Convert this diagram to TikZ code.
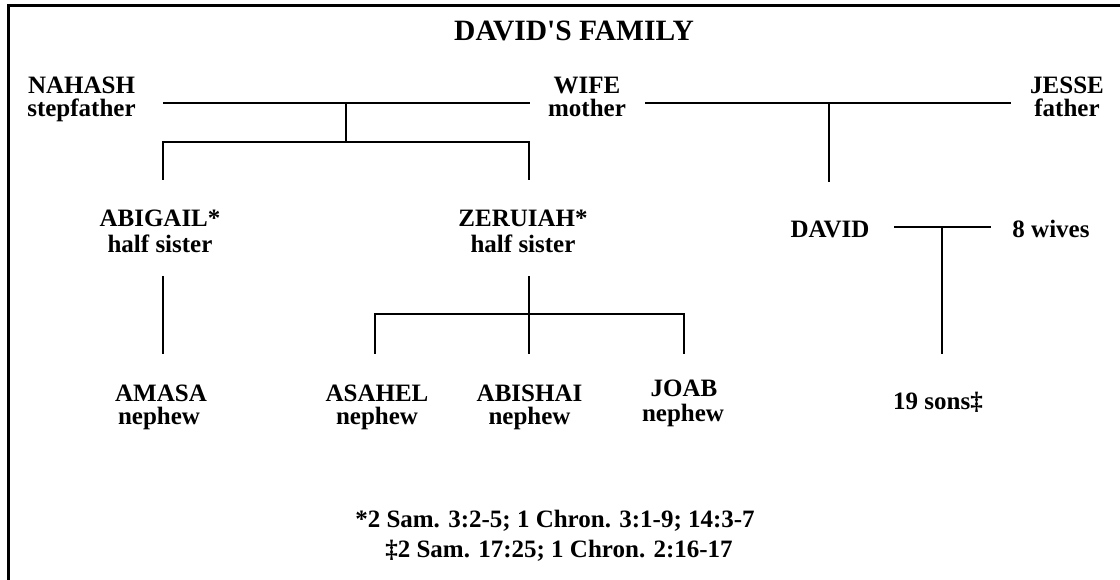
\documentclass[tikz,border=0pt]{standalone}
\usepackage{fontspec}
\setmainfont{Liberation Serif}[Ligatures=TeXOff]
\begin{document}
\begin{tikzpicture}[x=1pt,y=-1pt,
  lbl/.style={anchor=base, inner sep=0pt, font=\fontsize{25}{25}\selectfont\bfseries},
  ttl/.style={anchor=base, inner sep=0pt, font=\fontsize{29.5}{30}\selectfont\bfseries},
  link/.style={draw=black, line width=2pt},
  frame/.style={draw=black, line width=3pt}]
\useasboundingbox (0,0) rectangle (1120,580);
% frame (right and bottom edges fall outside the page)
\coordinate (fBL) at (8.5,590);
\coordinate (fTL) at (8.5,5.5);
\coordinate (fTR) at (1130,5.5);
\draw[frame] (fBL) -- (fTL) -- (fTR);

% title
\node[ttl] (title) at (574,41) {DAVID'S FAMILY};

% parents
\node[lbl] (nahash)  at (81.5,93.3)  {NAHASH};
\node[lbl] (nahashR) at (81.5,116.7) {stepfather};
\node[lbl] (wife)    at (587,94)     {WIFE};
\node[lbl] (wifeR)   at (587,116.7)  {mother};
\node[lbl] (jesse)   at (1067,93.3)  {JESSE};
\node[lbl] (jesseR)  at (1067,116.7) {father};

% children
\node[lbl] (abigail)  at (160,226.7) {ABIGAIL*};
\node[lbl] (abigailR) at (160,252.2) {half sister};
\node[lbl] (zeruiah)  at (523,226.7) {ZERUIAH*};
\node[lbl] (zeruiahR) at (523,252.2) {half sister};
\node[lbl] (david)    at (830,237.7) {DAVID};
\node[lbl] (wives)    at (1051,237.7) {8 wives};

% grandchildren
\node[lbl] (amasa)    at (161,401)   {AMASA};
\node[lbl] (amasaR)   at (159,424)   {nephew};
\node[lbl] (asahel)   at (377,401)   {ASAHEL};
\node[lbl] (asahelR)  at (377,424.5) {nephew};
\node[lbl] (abishai)  at (529.5,401) {ABISHAI};
\node[lbl] (abishaiR) at (529.5,424.5) {nephew};
\node[lbl] (joab)     at (684,396.7) {JOAB};
\node[lbl] (joabR)    at (683,421.7) {nephew};
\node[lbl] (sons)     at (938,409)   {19 sons‡};

% footnotes
\node[lbl] (fn1) at (555,527) {*2 Sam. 3:2-5; 1 Chron. 3:1-9; 14:3-7};
\node[lbl] (fn2) at (559,557) {‡2 Sam. 17:25; 1 Chron. 2:16-17};

% connector points
\coordinate (pA) at (163,103);
\coordinate (pB) at (530,103);
\coordinate (m1) at (345.5,103);
\coordinate (m1b) at (345.5,141.7);
\coordinate (abTop) at (163,180);
\coordinate (zeTop) at (529,180);

\coordinate (pC) at (645,103);
\coordinate (pD) at (1011,103);
\coordinate (m2) at (828.7,103);
\coordinate (davTop) at (828.7,182.5);

\coordinate (dL) at (894,227);
\coordinate (dR) at (991,227);
\coordinate (m3) at (941.5,227);
\coordinate (sonsTop) at (941.5,354);

\coordinate (abBot) at (163,276);
\coordinate (amTop) at (163,353.5);
\coordinate (zeBot) at (529,276);
\coordinate (zj) at (529,314.5);
\coordinate (abiTop) at (529,353.5);
\coordinate (asTop) at (375,353.5);
\coordinate (joTop) at (683.6,353.5);

% Nahash -- Wife
\draw[link] (pA) -- (pB);
\draw[link] (m1) -- (m1b);
\draw[link] (abTop) |- (m1b) -| (zeTop);
% Wife -- Jesse
\draw[link] (pC) -- (pD);
\draw[link] (m2) -- (davTop);
% David -- wives
\draw[link] (dL) -- (dR);
\draw[link] (m3) -- (sonsTop);
% Abigail -- Amasa
\draw[link] (abBot) -- (amTop);
% Zeruiah -- sons
\draw[link] (zeBot) -- (abiTop);
\draw[link] (asTop) |- (zj) -| (joTop);
\end{tikzpicture}
\end{document}
